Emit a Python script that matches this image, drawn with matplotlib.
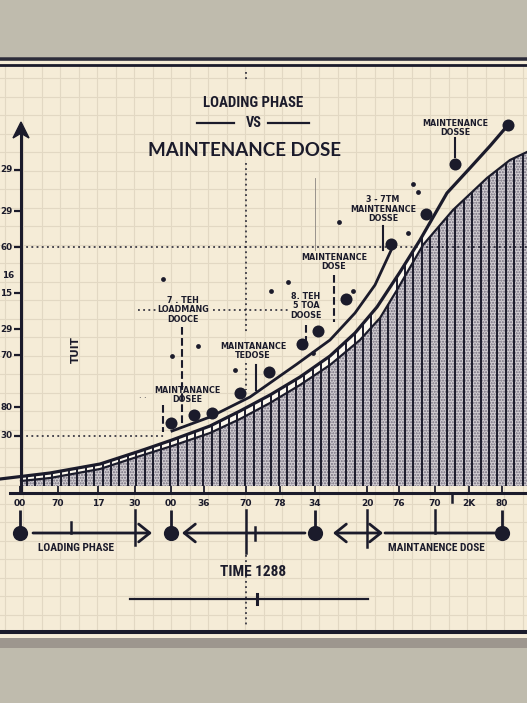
import numpy as np
import matplotlib
matplotlib.use("Agg")
import matplotlib.pyplot as plt
from matplotlib.patches import Rectangle

# main curve (time in h, concentration)
curve_t = [-1.05, 1.45, 3.95, 5.95, 7.55, 9.45, 10.95, 12.45, 13.95, 15.45,
           16.7, 17.8, 18.95, 19.95, 21.3, 22.45, 23.45, 24.35]
curve_c = [1.75, 3.25, 5.5, 8.75, 11.5, 15.0, 18.75, 22.75, 27.25, 32.5,
           38.25, 44.75, 53.5, 61.5, 73.25, 79.5, 85.0, 90.25]
# loading curve (upper, short)
early_t = [7.55, 9.45, 11.45, 13.8, 15.45, 16.7, 17.7, 18.65]
early_c = [13.75, 17.25, 22.25, 30.5, 36.5, 43.25, 50.25, 60.5]
# shaded level
fill_t = [0.0, 1.45, 3.95, 5.95, 7.55, 9.45, 10.95, 12.45, 13.95, 15.45,
          16.95, 17.95, 18.8, 20.1, 21.6, 23.3, 24.45, 25.3]
fill_c = [1.25, 2.0, 4.25, 7.5, 10.0, 13.25, 16.75, 20.75, 25.25, 30.25,
          36.5, 42.0, 49.0, 60.25, 69.0, 77.0, 81.5, 83.5]
# doses
dose_t = [7.5, 8.65, 9.55, 10.95, 12.4, 14.05, 14.85, 16.25, 18.5, 20.25, 21.7, 24.35]
dose_c = [15.75, 17.75, 18.25, 23.25, 28.5, 35.5, 38.75, 46.75, 60.5, 68.0, 80.5, 90.25]
spot_t = [7.1, 7.55, 8.85, 10.7, 12.5, 13.35, 14.6, 15.9, 16.6, 19.35, 19.6, 19.85]
spot_c = [51.75, 32.5, 35.0, 29.0, 48.75, 51.0, 33.25, 66.0, 48.75, 63.25, 75.5, 73.5]

xtick_pos = [-0.05, 1.85, 3.85, 5.7, 7.5, 9.15, 11.25, 12.95, 14.7, 17.3, 18.9, 20.7, 22.4, 24.05]
xtick_lbl = ["00", "70", "17", "30", "00", "36", "70", "78", "34", "20", "76", "70", "2K", "80"]
ytick_pos = [79.0, 68.75, 59.75, 48.25, 39.25, 32.75, 19.75, 12.5]
ytick_lbl = ["29", "29", "60", "15", "29", "70", "80", "30"]
phase_idx = [0, 4, 8, 13]

ink = "#1b1b2b"
paper = "#f5ecd7"
tan = "#bfbbad"
gridc = "#e2d8c3"
band = "#fcf8ee"
NARROW = ["Roboto Condensed", "Liberation Sans Narrow", "Roboto", "DejaVu Sans"]

fig = plt.figure(figsize=(5.27, 7.03), dpi=100)
fig.patch.set_facecolor(tan)

# paper, grid and frame (pixel coords)
bg = fig.add_axes([0, 0, 1, 1])
bg.set_xlim(0, 527)
bg.set_ylim(703, 0)
bg.axis("off")
bg.add_patch(Rectangle((0, 57), 527, 581, color=paper, lw=0))
bg.add_patch(Rectangle((0, 638), 527, 10, color="#9d968e", lw=0))
for gx in np.arange(4.7, 527, 18.5):
    bg.plot([gx, gx], [66, 630], color=gridc, lw=0.8)
for gy in np.arange(78, 630, 18.5):
    bg.plot([0, 527], [gy, gy], color=gridc, lw=0.8)
bg.plot([0, 527], [59, 59], color="#2c2c3a", lw=2.6)
bg.plot([0, 527], [64.5, 64.5], color=ink, lw=2.0)
bg.plot([0, 527], [632, 632], color=ink, lw=2.9)

# chart
ax = fig.add_axes([0, 0, 1, 1], facecolor="none")
ax.set_xlim(-1.05, 25.3)
ax.set_ylim(-54.25, 121.5)
ax.axis("off")
renderer = fig.canvas.get_renderer()


def narrow_text(x, y, s, width_px, size=12):
    # heading text, sized to the width seen in the picture
    t = ax.text(x, y, s, ha="center", va="center", color=ink, zorder=9,
                fontsize=size, weight="bold", family=NARROW)
    w = t.get_window_extent(renderer).width
    t.set_fontsize(size * width_px / w)
    return t


ax.fill_between(fill_t, 0, fill_c, facecolor="#d2ced2", edgecolor="#706a7a",
                hatch="......", linewidth=0, zorder=2)
gt = np.linspace(0, 25.3, 400)
lo = np.interp(gt, fill_t, fill_c)
up = np.interp(gt, curve_t, curve_c, right=200)
hi = np.where(up - lo < 3.5, up, lo)
ax.fill_between(gt, lo, hi, color=band, lw=0, zorder=3)
bar_x = np.arange(0.3, 25.3, 0.42)
bar_lo = np.interp(bar_x, fill_t, fill_c)
bar_up = np.interp(bar_x, curve_t, curve_c, right=200)
bar_top = np.where(bar_up - bar_lo < 3.5, bar_up, bar_lo)
ax.vlines(bar_x, 0, bar_top, color=ink, lw=1.4, zorder=4)

ax.plot(fill_t, fill_c, color=ink, lw=1.6, zorder=5)
ax.plot(curve_t, curve_c, color=ink, lw=2.3, zorder=6)
ax.plot(early_t, early_c, color=ink, lw=2.0, zorder=6)
ax.scatter(dose_t, dose_c, s=75, color=ink, lw=0, zorder=8)
ax.scatter(spot_t, spot_c, s=12, color=ink, lw=0, zorder=8)

# axes
ax.plot([-0.55, 25.3], [-1.75, -1.75], color=ink, lw=2.2, zorder=6)
ax.plot([0, 0], [-1.75, 88.5], color=ink, lw=2.2, zorder=6)
ax.fill([-0.4, 0, 0.4, 0], [87.0, 91.0, 87.0, 88.2], color=ink, zorder=6)
ax.vlines(xtick_pos, -1.75, 0, color=ink, lw=1.3, zorder=6)
for x, lbl in zip(xtick_pos, xtick_lbl):
    ax.text(x, -4.25, lbl, ha="center", va="center", fontsize=6.5,
            weight="bold", color=ink)
ax.hlines(ytick_pos, -0.35, 0, color=ink, lw=1.6, zorder=6)
for y, lbl in zip(ytick_pos, ytick_lbl):
    ax.text(-0.42, y, lbl, ha="right", va="center", fontsize=6.3,
            weight="bold", color=ink)
ax.text(-0.95, 52.75, "16", ha="left", va="center", fontsize=6.3,
        weight="bold", color=ink)
ax.text(2.75, 34, "TUIT", rotation=90, ha="center", va="center",
        fontsize=7.5, weight="bold", color=ink)

# guides
dot = dict(color=ink, lw=1.1, ls=(0, (1.2, 2.2)), zorder=7)
ax.plot([0, 25.3], [59.75, 59.75], **dot)
ax.plot([0, 7.2], [12.5, 12.5], **dot)
ax.plot([5.85, 6.8], [44, 44], **dot)
ax.plot([9.6, 13.45], [44, 44], **dot)
for y0, y1 in [(103.5, 101.5), (80.75, 38.25), (30.75, 24), (-17.25, -34.75)]:
    ax.plot([11.25, 11.25], [y0, y1], **dot)
ax.plot([14.7, 14.7], [77, 59], color="#8a8580", lw=0.6, zorder=1)

# title
narrow_text(11.6, 95.75, "LOADING PHASE", 100)
narrow_text(11.65, 90.75, "VS", 16)
ax.plot([8.8, 10.65], [90.75, 90.75], color=ink, lw=1.6)
ax.plot([12.35, 14.4], [90.75, 90.75], color=ink, lw=1.6)
ax.text(11.2, 84, "MAINTENANCE DOSE", ha="center", va="center", fontsize=13.5,
        weight="bold", family=["Lato", "DejaVu Sans"], color=ink)

# callouts
notes = [
    ("MAINTENANCE\nDOSSE", 21.7, 89.5, 21.7, 87, 82.25, "-"),
    ("3 - 7TM\nMAINTENANCE\nDOSSE", 18.1, 69.25, 18.1, 65, 59, "-"),
    ("MAINTENANCE\nDOSE", 15.65, 56, 15.65, 52.75, 41, "--"),
    ("8. TEH\n5 TOA\nDOOSE", 14.25, 45, 14.25, 40.25, 36, "--"),
    ("MAINTANANCE\nTEDOSE", 11.6, 33.75, 11.75, 30.25, 24, "-"),
    ("7 . TEH\nLOADMANG\nDOOCE", 8.1, 44, 8.05, 39.75, 14.75, "--"),
    ("MAINTANANCE\nDOSEE", 8.3, 22.75, 7.1, 20.25, 13.5, "--"),
]
for txt, tx, ty, sx, s0, s1, ls in notes:
    ax.text(tx, ty, txt, ha="center", va="center", fontsize=5.8, weight="bold",
            color=ink, linespacing=1.1, zorder=9)
    ax.plot([sx, sx], [s0, s1], color=ink, lw=1.5, ls=ls, zorder=7)
ax.text(6.1, 22.75, ". .", ha="center", va="center", fontsize=5.8, color=ink)

# phase timeline
tl = -11.75
phase_t = [xtick_pos[i] for i in phase_idx]
ax.vlines(phase_t, -6, tl, color=ink, lw=2.0)
ax.scatter(phase_t, [tl] * 4, s=120, color=ink, lw=0, zorder=8)
for x, y0, y1 in [(5.7, -6, -14.75), (11.25, -6, -16.75), (17.3, -6, -15.25),
                  (20.7, -6, -11.75), (2.5, -9, -11.75), (11.7, -10.25, -13.5),
                  (21.55, -1.75, -4.0)]:
    ax.plot([x, x], [y0, y1], color=ink, lw=1.8)
arw = "->,head_length=0.5,head_width=0.4"
seg = [((6.55, tl), (0.6, tl), arw), ((8.05, tl), (14.2, tl), arw),
       ((18.1, tl), (15.6, tl), "<->,head_length=0.5,head_width=0.4"),
       ((23.7, tl), (18.2, tl), "-")]
for xy, xyt, st in seg:
    ax.annotate("", xy=xy, xytext=xyt,
                arrowprops=dict(arrowstyle=st, color=ink, lw=2.0,
                                mutation_scale=16, shrinkA=0, shrinkB=0))
narrow_text(2.75, -15.5, "LOADING PHASE", 77)
narrow_text(20.75, -15.5, "MAINTANENCE DOSE", 98)
narrow_text(11.6, -21.5, "TIME 1288", 66)
ax.plot([5.45, 17.35], [-28.25, -28.25], color=ink, lw=1.6)
ax.plot([11.8, 11.8], [-27, -29.5], color=ink, lw=2.2)

fig.savefig("out.png", dpi=100, facecolor=fig.get_facecolor())
